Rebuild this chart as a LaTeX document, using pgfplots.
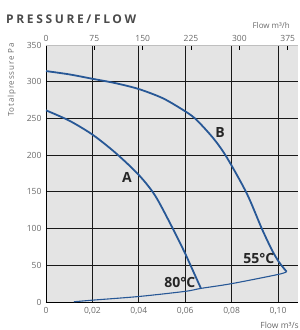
\documentclass[border=0pt]{standalone}
\usepackage{fontspec}
\setmainfont{Open Sans}
\usepackage{pgfplots}
\pgfplotsset{compat=1.18}
\definecolor{curve}{RGB}{40,88,150}
\definecolor{bg}{RGB}{228,228,228}
\definecolor{tickc}{RGB}{105,105,105}
\definecolor{titlec}{RGB}{75,75,75}
\pgfplotsset{
  common/.style={
    at={(46pt,28pt)}, anchor=south west, scale only axis,
    width=252pt, height=257pt,
    xmin=0, xmax=0.1086, ymin=0, ymax=350,
    xtick={0,0.02,0.04,0.06,0.08,0.1},
    ytick={0,50,100,150,200,250,300,350},
    major tick length=0pt,
    /pgf/number format/assume math mode=true,
  }
}
\begin{document}
\begin{tikzpicture}[x=1pt,y=1pt]
\useasboundingbox (0,0) rectangle (300,330);
% background and white halo grid
\begin{axis}[common,
  axis lines=none,
  axis background/.style={fill=bg},
  grid=major, major grid style={white, line width=2.4pt},
  xticklabels={}, yticklabels={},
]
\addplot[draw=none] coordinates {(0,0)};
\end{axis}
% main axis
\begin{axis}[common,
  axis x line*=bottom, axis y line*=left,
  axis line style={black, line width=0.9pt, -},
  xticklabels={0,{0,02},{0,04},{0,06},{0,08},{0,10}},
  grid=major, major grid style={black!90, line width=0.8pt},
  tick label style={font=\fontsize{8.5}{9}\selectfont, text=tickc},
  xticklabel style={yshift=-2pt},
  yticklabel style={xshift=-1pt},
  clip=false,
]
% curve A (80 C)
\addplot[curve, line width=1.8pt, smooth] coordinates {
 (0,261) (0.01,247) (0.02,228) (0.03,203) (0.04,173) (0.047,145)
 (0.054,104) (0.06,66) (0.062,52) (0.0667,19)};
% curve B (55 C)
\addplot[curve, line width=1.8pt, smooth] coordinates {
 (0,314.5) (0.01,310) (0.02,304) (0.03,298) (0.04,290) (0.05,278) (0.0578,264)
 (0.0642,250) (0.0721,223) (0.0779,197) (0.0865,148) (0.0930,100)
 (0.0975,70) (0.1005,54) (0.1037,41.3)};
% system curve
\addplot[curve, line width=1.1pt, smooth] coordinates {
 (0.012,0.3) (0.02,2.5) (0.04,7.5) (0.06,14.5) (0.0667,18.5) (0.08,25)
 (0.1,37.5) (0.1037,41.3)};
\node[font=\bfseries\fontsize{14}{14}\selectfont, text=black!85, inner sep=0pt] at (axis cs:0.0349,169) {A};
\node[font=\bfseries\fontsize{14}{14}\selectfont, text=black!85, inner sep=0pt] at (axis cs:0.075,230.5) {B};
\node[font=\bfseries\fontsize{14}{14}\selectfont, text=black!85, inner sep=0pt] at (axis cs:0.0577,26.6) {80°C};
\node[font=\bfseries\fontsize{14}{14}\selectfont, text=black!85, inner sep=0pt] at (axis cs:0.0917,59.5) {55°C};
\end{axis}
% top axis in m3/h
\begin{axis}[
  at={(46pt,28pt)}, anchor=south west, scale only axis,
  width=252pt, height=257pt,
  xmin=0, xmax=390.96, ymin=0, ymax=350,
  axis x line*=top, hide y axis,
  axis line style={black!25, line width=0.6pt, -},
  xtick={0,75,150,225,300,375},
  xtick align=inside, major tick length=5pt,
  tick style={black, line width=0.7pt},
  tick label style={font=\fontsize{8.5}{9}\selectfont, text=tickc},
  /pgf/number format/assume math mode=true,
]
\addplot[draw=none] coordinates {(0,0)};
\end{axis}
\node[anchor=west, inner sep=0pt, font=\bfseries\fontsize{12}{12}\selectfont\addfontfeature{LetterSpace=22}, text=titlec] at (6,310.5) {PRESSURE/FLOW};
\node[anchor=east, inner sep=0pt, font=\fontsize{8}{9}\selectfont, text=tickc] at (290,304.5) {Flow m³/h};
\node[anchor=east, inner sep=0pt, font=\fontsize{8.5}{9}\selectfont, text=tickc] at (299,5) {Flow m³/s};
\node[anchor=east, rotate=90, inner sep=0pt, font=\fontsize{8}{9}\selectfont\addfontfeature{LetterSpace=10}, text=tickc] at (11.7,286.7) {Totalpressure Pa};
\end{tikzpicture}
\end{document}
